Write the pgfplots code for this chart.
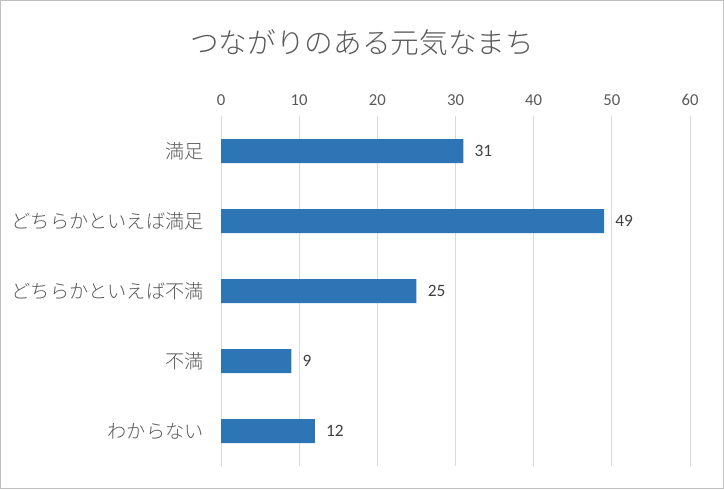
\documentclass[border=0pt]{standalone}
\usepackage{pgfplots}
\pgfplotsset{compat=1.18}
\usepackage{fontspec}
\setmainfont{Carlito}
\newfontfamily\cjk{Noto Sans CJK JP}[UprightFont={* Light}]
\definecolor{barblue}{HTML}{2E75B6}
\definecolor{textgray}{HTML}{595959}
\definecolor{gridgray}{HTML}{D9D9D9}
\definecolor{framegray}{HTML}{BFBFBF}
\begin{document}
\begin{tikzpicture}[x=1pt,y=1pt]
\draw[color=framegray, line width=0.75pt] (0.375,0.375) rectangle (542.625,366.375);
\node[text=textgray, font=\cjk\fontsize{21.5}{24}\selectfont] at (271.5,334.5) {つながりのある元気なまち};
\begin{axis}[
  at={(165.75pt,17.25pt)}, anchor=south west,
  scale only axis, width=351.75pt, height=262.5pt,
  xmin=0, xmax=60, ymin=-0.5, ymax=4.5, y dir=reverse,
  xbar, bar width=18pt,
  xtick={0,10,...,60}, xticklabel pos=upper,
  ytick={0,1,2,3,4},
  yticklabels={満足,どちらかといえば満足,どちらかといえば不満,不満,わからない},
  yticklabel style={font=\cjk\fontsize{14.4}{16}\selectfont, text=textgray, xshift=-9.5pt},
  xticklabel style={font=\fontsize{12.5}{14}\selectfont, text=textgray, yshift=4pt},
  /pgf/number format/assume math mode=true,
  axis line style={draw=none},
  major tick length=0pt,
  xmajorgrids, grid style={gridgray, line width=0.75pt},
  nodes near coords,
  nodes near coords style={font=\fontsize{13}{15}\selectfont, text=black!75, xshift=5pt},
]
\addplot[fill=barblue, draw=none] coordinates {(31,0) (49,1) (25,2) (9,3) (12,4)};
\end{axis}
\end{tikzpicture}
\end{document}
